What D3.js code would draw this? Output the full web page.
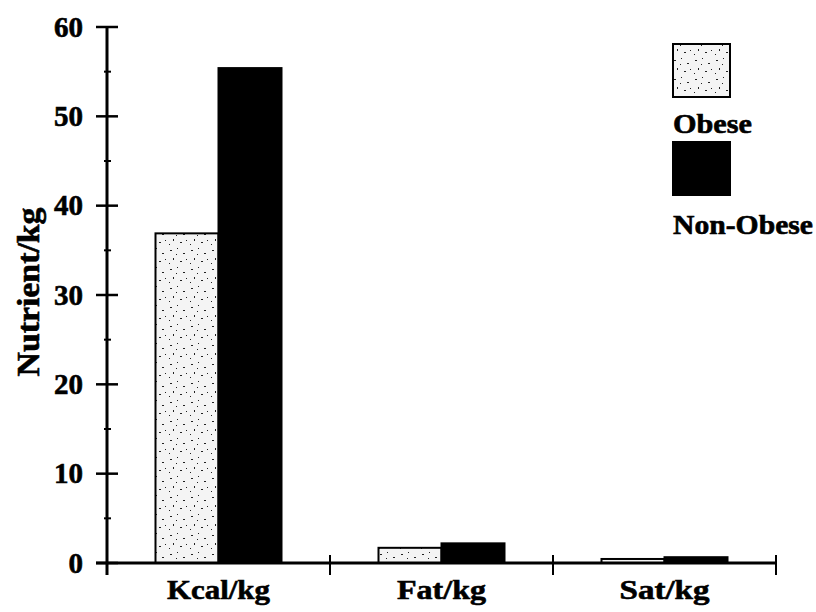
<!DOCTYPE html>
<html><head><meta charset="utf-8">
<script src="https://cdn.jsdelivr.net/npm/d3@7"></script>
<style>html,body{margin:0;padding:0;background:#fff}</style>
</head><body>
<svg id="chart" width="816" height="612"></svg>
<script>
const categories = ["Kcal/kg", "Fat/kg", "Sat/kg"];
const seriesNames = ["Obese", "Non-Obese"];
const obese = [36.9, 1.7, 0.45];
const nonObese = [55.4, 2.2, 0.65];
const yTicks = [0, 10, 20, 30, 40, 50, 60];
const yMinorTicks = [5, 15, 25, 35, 45, 55];
const yLabel = "Nutrient/kg";

const svg = d3.select("#chart");
const font = "'Liberation Serif','Times New Roman',serif";
const plotLeft = 107, plotRight = 776, plotTop = 27, plotBottom = 563;
const catLabelWidths = {"Kcal/kg": 103, "Fat/kg": 89, "Sat/kg": 90};

// stipple pattern
const defs = svg.append("defs");
const pat = defs.append("pattern").attr("id", "stip").attr("patternUnits", "userSpaceOnUse")
  .attr("width", 21).attr("height", 19);
pat.append("rect").attr("width", 21).attr("height", 19).attr("fill", "#f4f4f4");
[[2,3,2,1],[9,1,1,1],[15,6,2,1],[5,11,1,2],[12,14,2,1],[18,12,1,1],[8,7,1,1],[1,16,1,1]]
  .forEach(d => pat.append("rect").attr("x", d[0]).attr("y", d[1]).attr("width", d[2]).attr("height", d[3]).attr("fill", "#222"));

const x0 = d3.scaleBand().domain(categories).range([plotLeft, plotRight]).padding(0);
const y = d3.scaleLinear().domain([0, 60]).range([plotBottom, plotTop]);
const barW = 63;
const x1 = d3.scaleBand().domain(seriesNames).range([0, barW * 2]).padding(0);

const data = categories.map((c, i) => ({cat: c, vals: [obese[i], nonObese[i]]}));

// bars
data.forEach(d => {
  const cx = x0(d.cat) + x0.bandwidth() / 2 - barW;
  d.vals.forEach((v, j) => {
    svg.append("rect")
      .attr("x", cx + x1(seriesNames[j]))
      .attr("y", y(v))
      .attr("width", x1.bandwidth())
      .attr("height", y(0) - y(v))
      .attr("fill", j === 0 ? "url(#stip)" : "#000")
      .attr("stroke", "#000").attr("stroke-width", 2);
  });
});

const heavy = sel => sel.attr("font-family", font).attr("font-weight", "bold").attr("fill", "#000")
  .attr("stroke", "#000").attr("stroke-width", 0.6);

// y axis
const yAxis = d3.axisLeft(y).tickValues(yTicks).tickSize(0).tickPadding(24).tickFormat(d3.format("d"));
const gy = svg.append("g").attr("transform", `translate(${plotLeft},0)`).call(yAxis);
gy.select(".domain").remove();
gy.selectAll("text").call(heavy).attr("font-size", 29);
svg.append("line").attr("x1", plotLeft).attr("x2", plotLeft).attr("y1", y(60)).attr("y2", plotBottom + 12).attr("stroke", "#000").attr("stroke-width", 3);
yTicks.forEach(t => svg.append("line").attr("x1", plotLeft - 11).attr("x2", plotLeft + 11).attr("y1", y(t)).attr("y2", y(t)).attr("stroke", "#000").attr("stroke-width", 2.5));
yMinorTicks.forEach(t => svg.append("line").attr("x1", plotLeft - 3).attr("x2", plotLeft + 4).attr("y1", y(t)).attr("y2", y(t)).attr("stroke", "#000").attr("stroke-width", 2));

// x axis
svg.append("line").attr("x1", plotLeft - 11).attr("x2", plotRight).attr("y1", plotBottom).attr("y2", plotBottom).attr("stroke", "#000").attr("stroke-width", 3);
categories.forEach(c => {
  const xe = x0(c) + x0.bandwidth();
  svg.append("line").attr("x1", xe).attr("x2", xe).attr("y1", plotBottom - 8).attr("y2", plotBottom + 12).attr("stroke", "#000").attr("stroke-width", 2);
});
const xAxis = d3.axisBottom(x0).tickSize(0).tickPadding(16);
const gx = svg.append("g").attr("transform", `translate(0,${plotBottom})`).call(xAxis);
gx.select(".domain").remove();
gx.selectAll("text").call(heavy).attr("font-size", 28)
  .attr("textLength", d => catLabelWidths[d]).attr("lengthAdjust", "spacingAndGlyphs");

// y label
svg.append("text").attr("transform", `translate(39,292) rotate(-90)`).attr("text-anchor", "middle")
  .call(heavy).attr("font-size", 31)
  .attr("textLength", 169).attr("lengthAdjust", "spacingAndGlyphs").text(yLabel);

// legend
const leg = [{name: seriesNames[0], fill: "url(#stip)", y: 44, ty: 133, tl: 79}, {name: seriesNames[1], fill: "#000", y: 142, ty: 234, tl: 140}];
leg.forEach(l => {
  svg.append("rect").attr("x", 673).attr("y", l.y).attr("width", 57).attr("height", 53).attr("fill", l.fill).attr("stroke", "#000").attr("stroke-width", 2);
  svg.append("text").attr("x", 673).attr("y", l.ty).call(heavy).attr("font-size", 27)
    .attr("textLength", l.tl).attr("lengthAdjust", "spacingAndGlyphs").text(l.name);
});
</script>
</body></html>
